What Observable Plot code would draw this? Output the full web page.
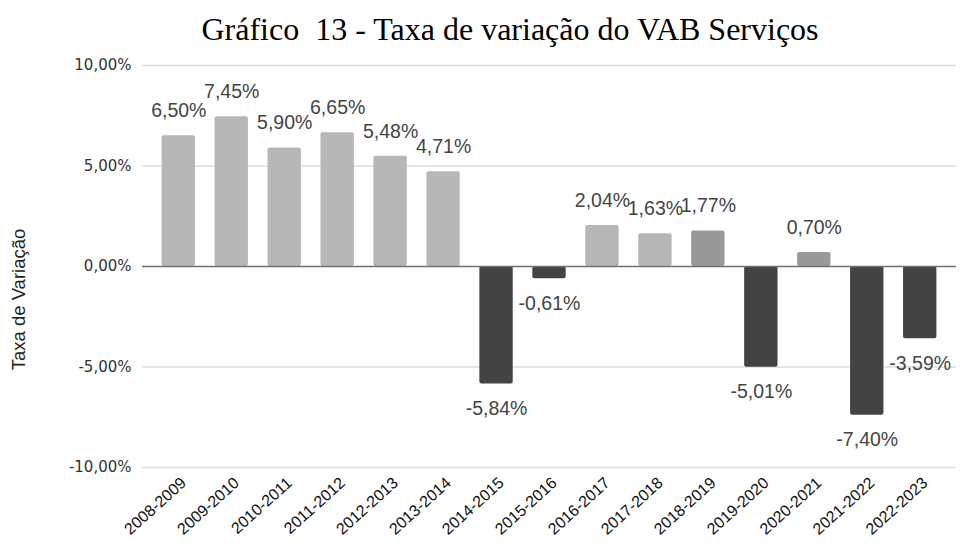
<!DOCTYPE html>
<html>
<head>
<meta charset="utf-8">
<script src="https://cdn.jsdelivr.net/npm/d3@7"></script>
<script src="https://cdn.jsdelivr.net/npm/@observablehq/plot@0.6"></script>
<style>
  html, body { margin: 0; padding: 0; background: #fff; }
  #title { height: 50px; width: 963px; text-align: center; font-family: "Liberation Serif", "Times New Roman", serif; font-size: 32px; line-height: 32px; padding-top: 13px; padding-left: 57px; box-sizing: border-box; color: #000; white-space: pre; }
  #chart svg { display: block; }
</style>
</head>
<body>
<div id="title">Gráfico  13 - Taxa de variação do VAB Serviços</div>
<div id="chart"></div>
<script>
const periods = ["2008-2009","2009-2010","2010-2011","2011-2012","2012-2013","2013-2014","2014-2015","2015-2016","2016-2017","2017-2018","2018-2019","2019-2020","2020-2021","2021-2022","2022-2023"];
const rates = [6.50, 7.45, 5.90, 6.65, 5.48, 4.71, -5.84, -0.61, 2.04, 1.63, 1.77, -5.01, 0.70, -7.40, -3.59];
const highlighted = ["2018-2019", "2020-2021"];
const yTicks = [-10, -5, 0, 5, 10];
const yTitle = "Taxa de Variação";

const data = periods.map((p, i) => ({
  period: p,
  rate: rates[i],
  tone: rates[i] < 0 ? "neg" : (highlighted.includes(p) ? "hi" : "pos")
}));

const fmt = v => v.toFixed(2).replace(".", ",") + "%";

const chart = Plot.plot({
  width: 963,
  height: 504,
  marginTop: 15,
  marginBottom: 87,
  marginLeft: 142,
  marginRight: 7,
  style: { fontFamily: "'Liberation Sans', Arial, sans-serif", background: "#fff" },
  x: { domain: periods, padding: 0.37, round: false, label: null },
  y: { domain: [-10, 10], label: null },
  color: { domain: ["pos", "hi", "neg"], range: ["#b7b7b7", "#999999", "#434343"] },
  marks: [
    Plot.ruleY(yTicks.filter(d => d !== 0), { stroke: "#dcdcdc", strokeWidth: 1.3 }),
    Plot.axisY({ ticks: yTicks, tickSize: 0, tickPadding: 11, tickFormat: d => d.toFixed(2).replace(".", ",") + "%", fontSize: 15, fill: "#333", fontFamily: "'DejaVu Sans', Verdana, sans-serif", label: null }),
    Plot.axisX({ tickSize: 0, tickPadding: 13, tickRotate: -42, fontSize: 16, fill: "#111", dx: 5, label: null }),
    Plot.barY(data, { x: "period", y: "rate", fill: "tone", rx: 2 }),
    Plot.ruleY([0], { stroke: "#707070", strokeWidth: 1.3 }),
    Plot.text(data.filter(d => d.rate >= 0), { x: "period", y: "rate", text: d => fmt(d.rate), dy: -25, fontSize: 19.5, fill: "#444" }),
    Plot.text(data.filter(d => d.rate < 0), { x: "period", y: "rate", text: d => fmt(d.rate), dy: 25, fontSize: 19.5, fill: "#444" }),
    Plot.text([yTitle], { frameAnchor: "left", textAnchor: "middle", dx: -123, dy: 33, rotate: -90, fontSize: 18.5, fill: "#222", text: d => d })
  ]
});
document.getElementById("chart").appendChild(chart);
</script>
</body>
</html>
